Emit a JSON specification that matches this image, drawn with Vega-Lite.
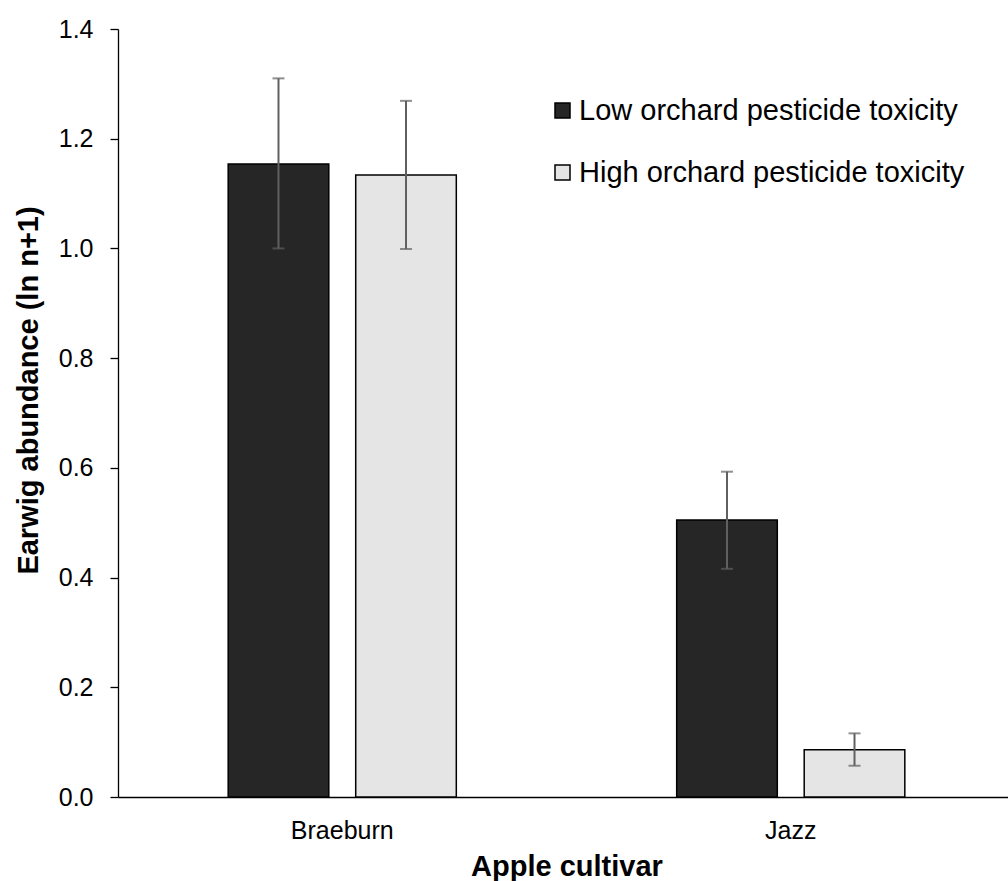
{
  "$schema": "https://vega.github.io/schema/vega-lite/v6.json",
  "autosize": {"type": "none"},
  "width": 890,
  "height": 768,
  "padding": {"left": 118, "top": 29, "right": 0, "bottom": 84},
  "background": "white",
  "config": {
    "view": {"stroke": null},
    "font": "Liberation Sans",
    "axis": {"labelFont": "Liberation Sans", "titleFont": "Liberation Sans", "labelColor": "#000", "titleColor": "#000", "domainColor": "#000", "tickColor": "#000", "grid": false}
  },
  "data": {
    "values": [
      {"cultivar": "Braeburn", "toxicity": "Low orchard pesticide toxicity", "mean": 1.154, "lo": 1.0, "hi": 1.31},
      {"cultivar": "Braeburn", "toxicity": "High orchard pesticide toxicity", "mean": 1.134, "lo": 0.999, "hi": 1.269},
      {"cultivar": "Jazz", "toxicity": "Low orchard pesticide toxicity", "mean": 0.505, "lo": 0.416, "hi": 0.593},
      {"cultivar": "Jazz", "toxicity": "High orchard pesticide toxicity", "mean": 0.086, "lo": 0.057, "hi": 0.116}
    ]
  },
  "encoding": {
    "x": {
      "field": "cultivar", "type": "nominal",
      "scale": {"paddingInner": 0, "paddingOuter": 0, "range": [0, 897]},
      "axis": {
        "title": "Apple cultivar", "titleFontSize": 29, "titleFontWeight": "bold",
        "titleX": 448.5, "titleY": 78, "titleAlign": "center", "titleBaseline": "alphabetic", "titleAnchor": null,
        "labelFontSize": 25, "labelAngle": 0, "ticks": false, "tickSize": 0, "labelPadding": 21,
        "domainWidth": 1.3
      }
    },
    "xOffset": {
      "field": "toxicity", "type": "nominal",
      "sort": ["Low orchard pesticide toxicity", "High orchard pesticide toxicity"],
      "scale": {"paddingInner": 0.211, "paddingOuter": 0.864}
    }
  },
  "layer": [
    {
      "mark": {"type": "bar", "stroke": "#000", "strokeWidth": 1.5},
      "encoding": {
        "y": {
          "field": "mean", "type": "quantitative",
          "scale": {"domain": [0, 1.4], "nice": false, "zero": true},
          "axis": {
            "title": "Earwig abundance (ln n+1)", "titleFontSize": 29, "titleFontWeight": "bold",
            "titleAngle": -90, "titleX": -81, "titleY": 361, "titleAlign": "center", "titleBaseline": "alphabetic", "titleAnchor": null,
            "values": [0, 0.2, 0.4, 0.6, 0.8, 1.0, 1.2, 1.4], "format": ".1f",
            "labelFontSize": 25, "tickSize": 8, "labelPadding": 17, "domainWidth": 1.3, "tickWidth": 1.3
          }
        },
        "color": {
          "field": "toxicity", "type": "nominal",
          "scale": {"domain": ["Low orchard pesticide toxicity", "High orchard pesticide toxicity"], "range": ["#262626", "#e5e5e5"]},
          "legend": {
            "title": null, "orient": "none", "legendX": 430, "legendY": 67,
            "symbolType": "square", "symbolSize": 225, "symbolStrokeColor": "#000", "symbolStrokeWidth": 1.5,
            "symbolOpacity": 1,
            "labelFontSize": 29, "labelFont": "Liberation Sans", "labelColor": "#000", "labelOffset": 2,
            "rowPadding": 32, "labelLimit": 600
          }
        }
      }
    },
    {
      "mark": {"type": "rule", "color": "#606060", "strokeWidth": 2},
      "encoding": {
        "y": {"field": "lo", "type": "quantitative"},
        "y2": {"field": "hi"}
      }
    },
    {
      "mark": {"type": "tick", "color": "#606060", "thickness": 2, "size": 12},
      "encoding": {"y": {"field": "lo", "type": "quantitative"}}
    },
    {
      "mark": {"type": "tick", "color": "#606060", "thickness": 2, "size": 12},
      "encoding": {"y": {"field": "hi", "type": "quantitative"}}
    }
  ]
}
